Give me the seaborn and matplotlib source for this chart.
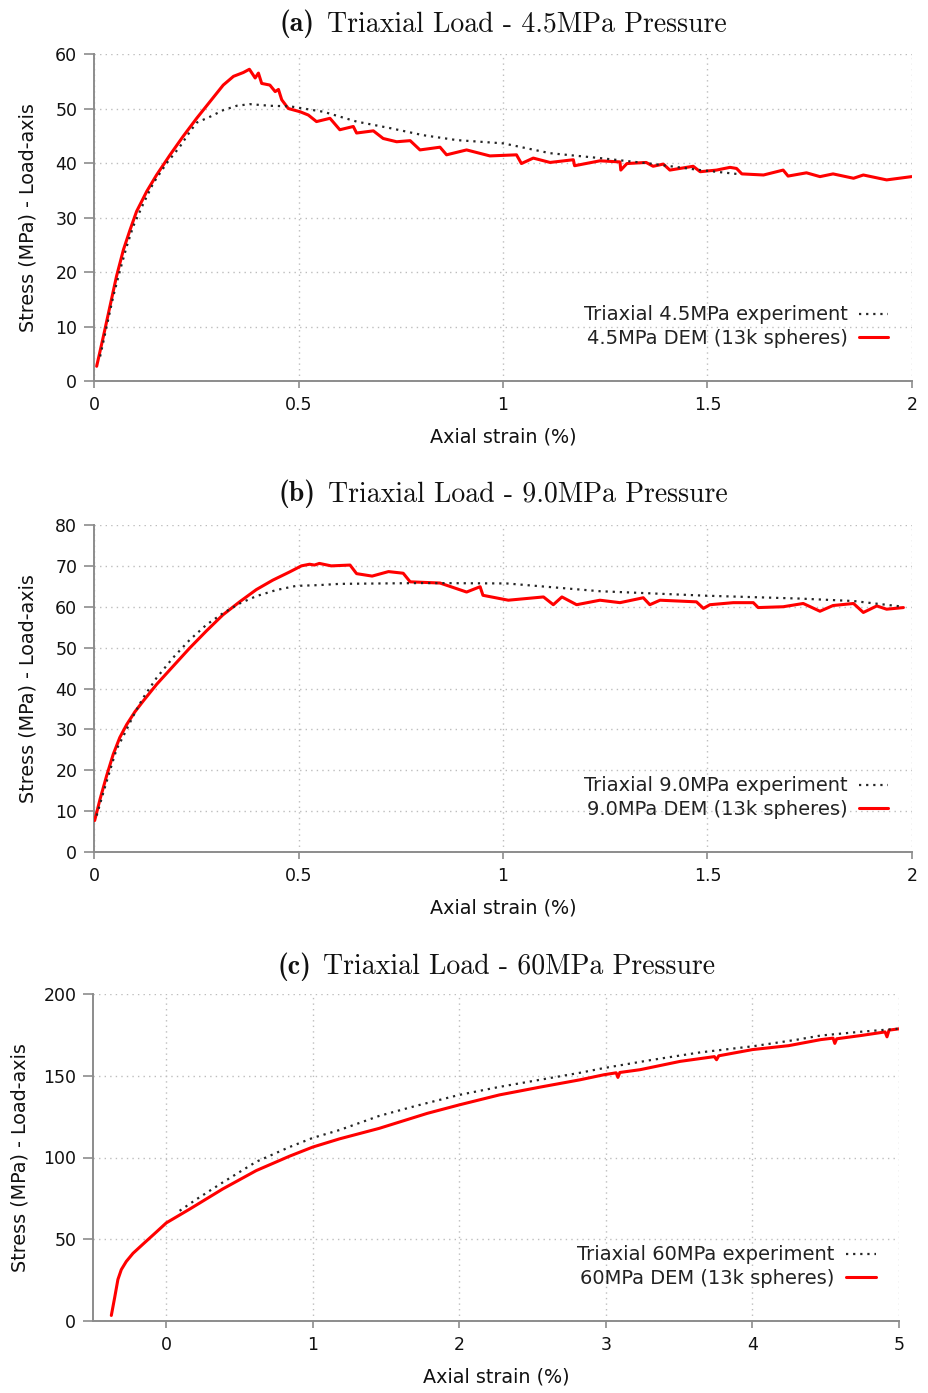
import numpy as np
import pandas as pd
import matplotlib
matplotlib.use("Agg")
import matplotlib.pyplot as plt
import seaborn as sns

# ---- (a) 4.5 MPa confining pressure ----
a_dem_x = [0.0065, 0.023, 0.039, 0.055, 0.072, 0.088, 0.104, 0.129, 0.153, 0.186, 0.218,
           0.251, 0.284, 0.316, 0.341, 0.365, 0.380, 0.394, 0.402, 0.410, 0.430, 0.443,
           0.451, 0.459, 0.475, 0.504, 0.524, 0.544, 0.577, 0.601, 0.634, 0.642,
           0.683, 0.707, 0.740, 0.773, 0.797, 0.846, 0.862, 0.911, 0.968, 1.033, 1.045, 1.074,
           1.115, 1.172, 1.175, 1.237, 1.286, 1.288, 1.303, 1.350, 1.367, 1.392, 1.408, 1.465,
           1.482, 1.522, 1.555, 1.571, 1.584, 1.637, 1.685, 1.697, 1.742, 1.775, 1.807, 1.857,
           1.881, 1.938, 1.999]
a_dem_y = [2.7, 8.2, 13.7, 19.2, 24.1, 27.7, 31.1, 34.8, 37.8, 41.5, 44.9,
           48.2, 51.3, 54.3, 55.9, 56.6, 57.2, 55.6, 56.5, 54.6, 54.3, 53.1,
           53.5, 51.6, 50.0, 49.4, 48.8, 47.6, 48.2, 46.1, 46.7, 45.5,
           45.9, 44.5, 43.9, 44.1, 42.4, 42.9, 41.5, 42.4, 41.3, 41.5, 39.9, 40.9,
           40.1, 40.6, 39.5, 40.4, 40.2, 38.7, 39.9, 40.1, 39.4, 39.8, 38.7, 39.4,
           38.4, 38.7, 39.2, 39.0, 38.0, 37.8, 38.7, 37.6, 38.2, 37.5, 38.0, 37.2,
           37.8, 36.9, 37.5]
a_exp_x = [0.015, 0.031, 0.047, 0.064, 0.080, 0.096, 0.121, 0.145, 0.178, 0.210, 0.235,
           0.251, 0.284, 0.316, 0.349, 0.381, 0.430, 0.479, 0.561, 0.642, 0.724, 0.805,
           0.887, 1.001, 1.115, 1.237, 1.359, 1.482, 1.571]
a_exp_y = [4.5, 10.0, 15.5, 20.4, 24.7, 28.4, 32.6, 36.3, 40.0, 43.0, 45.8,
           47.4, 48.5, 49.7, 50.5, 50.8, 50.5, 50.4, 49.4, 47.6, 46.4, 45.1,
           44.2, 43.6, 41.8, 40.9, 39.9, 38.7, 38.0]

# ---- (b) 9.0 MPa confining pressure ----
b_dem_x = [0.0016, 0.015, 0.031, 0.047, 0.063, 0.080, 0.100, 0.120, 0.153, 0.193, 0.234,
           0.275, 0.315, 0.356, 0.397, 0.437, 0.478, 0.507, 0.527, 0.539, 0.551, 0.58, 0.626,
           0.642, 0.68, 0.72, 0.756, 0.773, 0.846, 0.911, 0.944, 0.951, 1.013, 1.099, 1.123,
           1.144, 1.18, 1.237, 1.286, 1.343, 1.359, 1.384, 1.473, 1.49, 1.506, 1.563, 1.612,
           1.624, 1.685, 1.734, 1.775, 1.807, 1.857, 1.881, 1.914, 1.938, 1.979]
b_dem_y = [7.7, 13.0, 18.7, 23.9, 28.0, 31.2, 34.3, 36.9, 41.0, 45.4, 49.9,
           54.1, 58.0, 61.2, 64.2, 66.5, 68.5, 70.0, 70.4, 70.2, 70.6, 70.0, 70.2,
           68.1, 67.5, 68.6, 68.2, 66.1, 65.8, 63.6, 64.9, 62.8, 61.6, 62.4, 60.5,
           62.4, 60.5, 61.6, 61.0, 62.2, 60.5, 61.6, 61.2, 59.6, 60.5, 61.0, 61.0,
           59.8, 60.0, 60.8, 58.9, 60.3, 60.8, 58.6, 60.2, 59.4, 59.8]
b_exp_x = [0.0065, 0.023, 0.039, 0.055, 0.072, 0.096, 0.120, 0.153, 0.193, 0.234, 0.275,
           0.315, 0.356, 0.397, 0.446, 0.494, 0.551, 0.601, 0.805, 1.009, 1.237, 1.497,
           1.726, 1.857, 1.979]
b_exp_y = [8.9, 14.6, 19.9, 25.1, 28.4, 33.3, 37.7, 42.6, 47.5, 51.9, 55.6,
           58.4, 60.8, 62.6, 64.1, 65.1, 65.3, 65.6, 65.8, 65.7, 63.8, 62.7,
           62.0, 61.4, 60.0]

# ---- (c) 60 MPa confining pressure ----
c_dem_x = [-0.375, -0.352, -0.330, -0.307, -0.273, -0.227, -0.159, -0.068, 0.0, 0.159,
           0.386, 0.614, 0.841, 1.0, 1.182, 1.452, 1.781, 2.0, 2.274, 2.548, 2.822, 2.986,
           3.07, 3.082, 3.095, 3.233, 3.507, 3.74, 3.755, 3.77, 4.0, 4.247, 4.466, 4.55,
           4.562, 4.575, 4.74, 4.905, 4.918, 4.932, 5.0]
c_dem_y = [3.4, 14.4, 25.4, 31.4, 36.4, 41.4, 47.0, 54.4, 60.0, 68.4,
           80.8, 92.0, 100.8, 106.4, 111.4, 117.8, 127.0, 132.2, 138.3, 143.0, 147.5, 150.6,
           151.8, 149.0, 152.0, 153.7, 158.8, 161.7, 159.8, 162.2, 166.0, 168.4, 172.1, 173.0,
           169.8, 172.6, 174.6, 176.8, 173.8, 177.9, 178.7]
c_exp_x = [0.091, 0.205, 0.386, 0.614, 0.841, 1.0, 1.182, 1.452, 1.7, 2.0, 2.274, 2.548,
           2.822, 2.986, 3.3, 3.644, 4.0, 4.3, 4.466, 4.75, 4.99]
c_exp_y = [67.4, 74.4, 84.8, 97.4, 106.4, 112.0, 116.8, 125.4, 131.5, 138.3, 143.2, 147.5,
           151.8, 154.7, 159.5, 164.3, 168.0, 172.0, 174.6, 177.0, 178.7]

panel_tags = ["(a)", "(b)", "(c)"]
title_texts = ["Triaxial Load - 4.5MPa Pressure",
               "Triaxial Load - 9.0MPa Pressure",
               "Triaxial Load - 60MPa Pressure"]
exp_labels = ["Triaxial 4.5MPa experiment", "Triaxial 9.0MPa experiment",
              "Triaxial 60MPa experiment"]
dem_labels = ["4.5MPa DEM (13k spheres)", "9.0MPa DEM (13k spheres)",
              "60MPa DEM (13k spheres)"]
x_ticks = [[0, 0.5, 1, 1.5, 2], [0, 0.5, 1, 1.5, 2], [0, 1, 2, 3, 4, 5]]
x_tick_labels = [["0", "0.5", "1", "1.5", "2"], ["0", "0.5", "1", "1.5", "2"],
                 ["0", "1", "2", "3", "4", "5"]]
y_ticks = [[0, 10, 20, 30, 40, 50, 60], [0, 10, 20, 30, 40, 50, 60, 70, 80],
           [0, 50, 100, 150, 200]]

sns.set_theme(style="white")
plt.rcParams["font.family"] = ["DejaVu Sans"]

W, H = 929, 1393
fig = plt.figure(figsize=(W / 100, H / 100), dpi=100)
axes_rects = [
    [94 / W, 1 - 381 / H, 818 / W, 327 / H],
    [94 / W, 1 - 852 / H, 818 / W, 327 / H],
    [93 / W, 1 - 1321 / H, 806 / W, 327 / H],
]
title_baselines = [31, 501, 974]
ylabel_pads = [12.5, 12.5, 10]
xlims = [(0, 2), (0, 2), (-0.5, 5)]
ylims = [(0, 60), (0, 80), (0, 200)]
series = [
    (a_exp_x, a_exp_y, a_dem_x, a_dem_y),
    (b_exp_x, b_exp_y, b_dem_x, b_dem_y),
    (c_exp_x, c_exp_y, c_dem_x, c_dem_y),
]

spine_col = "#8c8c8c"
title_parts = []
for i, rect in enumerate(axes_rects):
    ax = fig.add_axes(rect)
    ex, ey, dx, dy = series[i]
    dem = pd.DataFrame({"strain": dx, "stress": dy})
    exp = pd.DataFrame({"strain": ex, "stress": ey})
    sns.lineplot(data=dem, x="strain", y="stress", ax=ax, color="#ff0000",
                 linewidth=2.2, estimator=None, sort=False, label=dem_labels[i], zorder=3)
    sns.lineplot(data=exp, x="strain", y="stress", ax=ax, color="#262626",
                 linewidth=1.6, linestyle=(0, (1, 2.2)), estimator=None, sort=False,
                 label=exp_labels[i], zorder=4)

    ax.set_xlim(*xlims[i])
    ax.set_ylim(*ylims[i])
    ax.set_xticks(x_ticks[i])
    ax.set_xticklabels(x_tick_labels[i])
    ax.set_yticks(y_ticks[i])
    ax.grid(True, color="#bdbdbd", linestyle=(0, (1, 3)), linewidth=1.0)
    ax.set_axisbelow(True)
    for side in ["top", "right"]:
        ax.spines[side].set_visible(False)
    for side in ["left", "bottom"]:
        ax.spines[side].set_color(spine_col)
        ax.spines[side].set_linewidth(1.4)
    ax.tick_params(axis="x", direction="out", length=5, width=1.2, color=spine_col,
                   labelsize=12.5, pad=6, labelcolor="#111111", bottom=True)
    ax.tick_params(axis="y", direction="out", length=7, width=1.2, color=spine_col,
                   labelsize=12.5, pad=5, labelcolor="#111111", left=True)
    ax.set_xlabel("Axial strain (%)", fontsize=13.8, labelpad=9.5, color="#111111")
    ax.set_ylabel("Stress (MPa) - Load-axis", fontsize=13.8, labelpad=ylabel_pads[i],
                  color="#111111")

    handles, labels = ax.get_legend_handles_labels()
    order = [1, 0]
    ax.legend([handles[k] for k in order], [labels[k] for k in order],
              loc="lower right", bbox_to_anchor=(0.971, 0.10), markerfirst=False,
              frameon=False, fontsize=14, handlelength=1.5, handletextpad=0.6,
              labelspacing=0.25, borderpad=0, borderaxespad=0, labelcolor="#222222")

    # panel heading: bold tag followed by the roman title, centred over the axes
    t_tag = fig.text(0, 1 - title_baselines[i] / H, panel_tags[i], fontfamily="cmb10",
                     fontsize=20, va="baseline", ha="left", color="#111111")
    t_main = fig.text(0, 1 - title_baselines[i] / H, title_texts[i], fontfamily="cmr10",
                      fontsize=20, va="baseline", ha="left", color="#111111")
    title_parts.append((ax, t_tag, t_main))

fig.canvas.draw()
renderer = fig.canvas.get_renderer()
gap = 12
for ax, t_tag, t_main in title_parts:
    w_tag = t_tag.get_window_extent(renderer).width
    w_main = t_main.get_window_extent(renderer).width
    bb = ax.get_window_extent(renderer)
    cx = (bb.x0 + bb.x1) / 2
    x0 = cx - (w_tag + gap + w_main) / 2
    y = t_tag.get_position()[1]
    t_tag.set_position((x0 / W, y))
    t_main.set_position(((x0 + w_tag + gap) / W, y))

fig.savefig("out.png", dpi=100)
